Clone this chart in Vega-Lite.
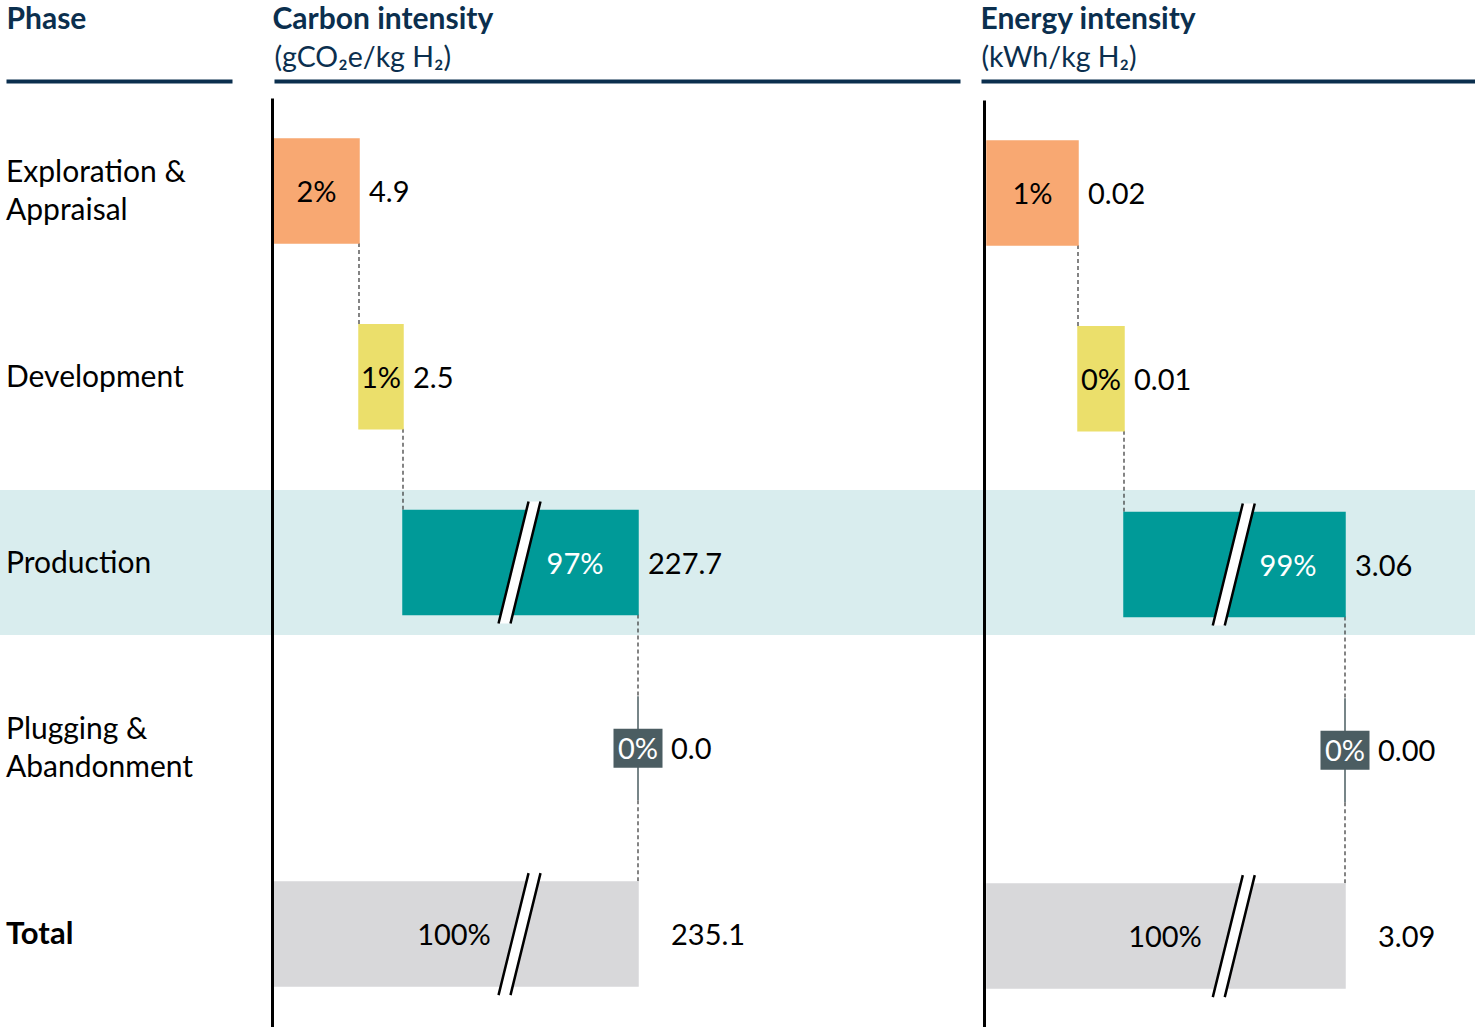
{
  "$schema": "https://vega.github.io/schema/vega-lite/v6.json",
  "width": 1475,
  "height": 1027,
  "autosize": {"type": "fit", "contains": "padding"},
  "padding": 0,
  "background": "white",
  "config": {
    "view": {"stroke": null},
    "font": "Lato",
    "text": {"font": "Lato", "fontSize": 29},
    "axis": {"labelFont": "Lato", "titleFont": "Lato"}
  },
  "datasets": {
    "phases": [
      {"phase": "Exploration & Appraisal", "label": "Exploration &\nAppraisal"},
      {"phase": "Development", "label": "Development"},
      {"phase": "Production", "label": "Production"},
      {"phase": "Plugging & Abandonment", "label": "Plugging &\nAbandonment"},
      {"phase": "Total", "label": "Total"}
    ],
    "carbon": [
      {"phase": "Exploration & Appraisal", "start": 0, "end": 4.9, "value": "4.9", "pct": "2%"},
      {"phase": "Development", "start": 4.9, "end": 7.4, "value": "2.5", "pct": "1%"},
      {"phase": "Production", "start": 7.4, "end": 235.1, "value": "227.7", "pct": "97%"},
      {"phase": "Plugging & Abandonment", "start": 235.1, "end": 235.1, "value": "0.0", "pct": "0%"},
      {"phase": "Total", "start": 0, "end": 235.1, "value": "235.1", "pct": "100%"}
    ],
    "carbonLinks": [
      {"from": "Exploration & Appraisal", "to": "Development", "at": 4.9},
      {"from": "Development", "to": "Production", "at": 7.4},
      {"from": "Production", "to": "Plugging & Abandonment", "at": 235.1},
      {"from": "Plugging & Abandonment", "to": "Total", "at": 235.1}
    ],
    "carbonBreaks": [
      {"phase": "Production", "at": 120.3},
      {"phase": "Total", "at": 120.3}
    ],
    "energy": [
      {"phase": "Exploration & Appraisal", "start": 0, "end": 0.02, "value": "0.02", "pct": "1%"},
      {"phase": "Development", "start": 0.02, "end": 0.03, "value": "0.01", "pct": "0%"},
      {"phase": "Production", "start": 0.03, "end": 3.09, "value": "3.06", "pct": "99%"},
      {"phase": "Plugging & Abandonment", "start": 3.09, "end": 3.09, "value": "0.00", "pct": "0%"},
      {"phase": "Total", "start": 0, "end": 3.09, "value": "3.09", "pct": "100%"}
    ],
    "energyLinks": [
      {"from": "Exploration & Appraisal", "to": "Development", "at": 0.02},
      {"from": "Development", "to": "Production", "at": 0.03},
      {"from": "Production", "to": "Plugging & Abandonment", "at": 3.09},
      {"from": "Plugging & Abandonment", "to": "Total", "at": 3.09}
    ],
    "energyBreaks": [
      {"phase": "Production", "at": 1.55},
      {"phase": "Total", "at": 1.55}
    ]
  },
  "layer": [
    {
      "data": {"name": "phases"},
      "layer": [
        {
          "transform": [{"filter": "datum.phase === 'Production'"}],
          "mark": {"type": "rect", "color": "#D9EDEE"},
          "encoding": {
            "y": {"field": "phase", "type": "nominal", "scale": {"domain": ["Exploration & Appraisal", "Development", "Production", "Plugging & Abandonment", "Total"], "range": [98, 1027], "paddingInner": 0.22, "paddingOuter": 0.11}, "axis": null}
          }
        },
        {
          "layer": [
            {
              "transform": [{"filter": "datum.phase === 'Development' || datum.phase === 'Production'"}],
              "mark": {"type": "text", "align": "left", "baseline": "middle", "dy": 1, "fontSize": 30, "color": "black"},
              "encoding": {
                "x": {"datum": 0, "type": "quantitative", "scale": {"domain": [0, 1], "range": [6, 232], "nice": false, "zero": false},
                  "axis": {"orient": "top", "offset": -81, "domainColor": "#0B2F4E", "domainWidth": 4, "ticks": false, "labels": false, "grid": false, "title": "Phase", "titleFontSize": 30, "titleFontWeight": "bold", "titleColor": "#0B2F4E", "titleAlign": "left", "titleBaseline": "alphabetic", "titleX": 6, "titleY": -53, "zindex": 1}},
                "y": {"field": "phase", "type": "nominal", "scale": {"domain": ["Exploration & Appraisal", "Development", "Production", "Plugging & Abandonment", "Total"], "range": [98, 1027], "paddingInner": 0.44, "paddingOuter": 0.22}, "axis": null},
                "text": {"field": "label"}
              }
            },
            {
              "transform": [{"filter": "datum.phase === 'Exploration & Appraisal' || datum.phase === 'Plugging & Abandonment'"}],
              "mark": {"type": "text", "align": "left", "baseline": "middle", "lineBreak": "\n", "fontSize": 30, "lineHeight": 38, "dy": -18, "color": "black"},
              "encoding": {
                "x": {"datum": 0, "type": "quantitative"},
                "y": {"field": "phase", "type": "nominal"},
                "text": {"field": "label"}
              }
            },
            {
              "transform": [{"filter": "datum.phase === 'Total'"}],
              "mark": {"type": "text", "align": "left", "baseline": "middle", "dy": 1, "fontSize": 31, "fontWeight": "bold", "color": "black"},
              "encoding": {
                "x": {"datum": 0, "type": "quantitative"},
                "y": {"field": "phase", "type": "nominal"},
                "text": {"field": "label"}
              }
            }
          ]
        }
      ],
      "resolve": {"scale": {"y": "independent"}}
    },
    {
      "data": {"name": "carbon"},
      "layer": [
        {
          "data": {"name": "carbonLinks"},
          "mark": {"type": "rule", "strokeDash": [4, 3], "color": "#333333", "strokeWidth": 1.2},
          "encoding": {
            "x": {"field": "at", "type": "quantitative",
              "scale": {"type": "linear", "domain": [0, 4.9, 7.4, 235.1, 547], "range": [274, 359, 403, 638, 960], "nice": false, "zero": false},
              "axis": {"orient": "top", "offset": -81, "domainColor": "#0B2F4E", "domainWidth": 4, "ticks": false, "tickSize": 0, "grid": false, "values": [0], "labelExpr": "'(gCO₂e/kg H₂)'", "labelAlign": "left", "labelBaseline": "alphabetic", "labelPadding": 15, "labelFontSize": 28.5, "labelColor": "#0B2F4E", "labelBound": false, "labelFlush": false, "labelOverlap": false, "title": "Carbon intensity", "titleFontSize": 30, "titleFontWeight": "bold", "titleColor": "#0B2F4E", "titleAlign": "left", "titleBaseline": "alphabetic", "titleX": 272, "titleY": -53, "zindex": 1}},
            "y": {"field": "from", "type": "nominal", "bandPosition": 1,
              "scale": {"domain": ["Exploration & Appraisal", "Development", "Production", "Plugging & Abandonment", "Total"], "range": [98, 1027], "paddingInner": 0.44, "paddingOuter": 0.22},
              "axis": {"orient": "left", "offset": -272, "domainColor": "black", "domainWidth": 3, "ticks": false, "labels": false, "grid": false, "title": null, "zindex": 1}},
            "y2": {"field": "to", "bandPosition": 0}
          }
        },
        {
          "mark": {"type": "bar", "strokeWidth": 1.5},
          "encoding": {
            "x": {"field": "start", "type": "quantitative"},
            "x2": {"field": "end"},
            "y": {"field": "phase", "type": "nominal"},
            "fill": {"field": "phase", "type": "nominal", "scale": {"domain": ["Exploration & Appraisal", "Development", "Production", "Plugging & Abandonment", "Total"], "range": ["#F8A872", "#EBDF6B", "#009A98", "#4B5D62", "#D8D8DA"]}, "legend": null},
            "stroke": {"field": "phase", "type": "nominal", "scale": {"domain": ["Exploration & Appraisal", "Development", "Production", "Plugging & Abandonment", "Total"], "range": ["#F8A872", "#EBDF6B", "#009A98", "#4B5D62", "#D8D8DA"]}, "legend": null}
          }
        },
        {
          "data": {"name": "carbonBreaks"},
          "mark": {"type": "point", "shape": "M -0.344 1 L 0.148 -1 L 0.344 -1 L -0.148 1 Z", "size": 14884, "filled": true, "color": "white", "opacity": 1, "strokeWidth": 0},
          "encoding": {"x": {"field": "at", "type": "quantitative"}, "y": {"field": "phase", "type": "nominal"}}
        },
        {
          "data": {"name": "carbonBreaks"},
          "mark": {"type": "point", "shape": "M -0.344 1 L 0.148 -1 M -0.148 1 L 0.344 -1", "size": 14884, "filled": false, "stroke": "black", "opacity": 1, "strokeWidth": 2.5},
          "encoding": {"x": {"field": "at", "type": "quantitative"}, "y": {"field": "phase", "type": "nominal"}}
        },
        {
          "transform": [{"filter": "datum.phase === 'Plugging & Abandonment'"}],
          "mark": {"type": "point", "shape": "M -1 -0.796 L 1 -0.796 L 1 0.796 L -1 0.796 Z", "size": 2401, "filled": true, "color": "#4B5D62", "opacity": 1, "strokeWidth": 0},
          "encoding": {"x": {"field": "end", "type": "quantitative"}, "y": {"field": "phase", "type": "nominal"}}
        },
        {
          "transform": [{"filter": "datum.phase !== 'Plugging & Abandonment' && datum.phase !== 'Total'"}],
          "mark": {"type": "text", "align": "left", "baseline": "middle", "dx": 10, "dy": 2, "fontSize": 29, "color": "black"},
          "encoding": {"x": {"field": "end", "type": "quantitative"}, "y": {"field": "phase", "type": "nominal"}, "text": {"field": "value"}}
        },
        {
          "transform": [{"filter": "datum.phase === 'Plugging & Abandonment' || datum.phase === 'Total'"}],
          "mark": {"type": "text", "align": "left", "baseline": "middle", "dx": 33, "dy": 2, "fontSize": 29, "color": "black"},
          "encoding": {"x": {"field": "end", "type": "quantitative"}, "y": {"field": "phase", "type": "nominal"}, "text": {"field": "value"}}
        },
        {
          "transform": [{"filter": "datum.phase === 'Exploration & Appraisal' || datum.phase === 'Development'"}, {"calculate": "(datum.start + datum.end) / 2", "as": "mid"}],
          "mark": {"type": "text", "align": "center", "baseline": "middle", "dy": 2, "fontSize": 29, "color": "black"},
          "encoding": {"x": {"field": "mid", "type": "quantitative"}, "y": {"field": "phase", "type": "nominal"}, "text": {"field": "pct"}}
        },
        {
          "transform": [{"filter": "datum.phase === 'Production'"}],
          "mark": {"type": "text", "align": "center", "baseline": "middle", "dx": -63, "dy": 2, "fontSize": 29, "color": "white"},
          "encoding": {"x": {"field": "end", "type": "quantitative"}, "y": {"field": "phase", "type": "nominal"}, "text": {"field": "pct"}}
        },
        {
          "transform": [{"filter": "datum.phase === 'Plugging & Abandonment'"}],
          "mark": {"type": "text", "align": "center", "baseline": "middle", "dy": 2, "fontSize": 29, "color": "white"},
          "encoding": {"x": {"field": "end", "type": "quantitative"}, "y": {"field": "phase", "type": "nominal"}, "text": {"field": "pct"}}
        },
        {
          "transform": [{"filter": "datum.phase === 'Total'"}],
          "mark": {"type": "text", "align": "center", "baseline": "middle", "dx": 180, "dy": 2, "fontSize": 29, "color": "black"},
          "encoding": {"x": {"field": "start", "type": "quantitative"}, "y": {"field": "phase", "type": "nominal"}, "text": {"field": "pct"}}
        }
      ]
    },
    {
      "data": {"name": "energy"},
      "layer": [
        {
          "data": {"name": "energyLinks"},
          "mark": {"type": "rule", "strokeDash": [4, 3], "color": "#333333", "strokeWidth": 1.2},
          "encoding": {
            "x": {"field": "at", "type": "quantitative",
              "scale": {"type": "linear", "domain": [-0.00132, 0, 0.02, 0.03, 3.09, 4.89], "range": [981, 987, 1078, 1124, 1345, 1475], "nice": false, "zero": false},
              "axis": {"orient": "top", "offset": -81, "domainColor": "#0B2F4E", "domainWidth": 4, "ticks": false, "tickSize": 0, "grid": false, "values": [0], "labelExpr": "'(kWh/kg H₂)'", "labelAlign": "left", "labelBaseline": "alphabetic", "labelPadding": 15, "labelOffset": -6, "labelFontSize": 28.5, "labelColor": "#0B2F4E", "labelBound": false, "labelFlush": false, "labelOverlap": false, "title": "Energy intensity", "titleFontSize": 30, "titleFontWeight": "bold", "titleColor": "#0B2F4E", "titleAlign": "left", "titleBaseline": "alphabetic", "titleX": 980, "titleY": -53, "zindex": 1}},
            "y": {"field": "from", "type": "nominal", "bandPosition": 1,
              "scale": {"domain": ["Exploration & Appraisal", "Development", "Production", "Plugging & Abandonment", "Total"], "range": [100, 1029], "paddingInner": 0.44, "paddingOuter": 0.22},
              "axis": {"orient": "left", "offset": -984, "domainColor": "black", "domainWidth": 3, "ticks": false, "labels": false, "grid": false, "title": null, "zindex": 1}},
            "y2": {"field": "to", "bandPosition": 0}
          }
        },
        {
          "mark": {"type": "bar", "strokeWidth": 1.5},
          "encoding": {
            "x": {"field": "start", "type": "quantitative"},
            "x2": {"field": "end"},
            "y": {"field": "phase", "type": "nominal"},
            "fill": {"field": "phase", "type": "nominal", "scale": {"domain": ["Exploration & Appraisal", "Development", "Production", "Plugging & Abandonment", "Total"], "range": ["#F8A872", "#EBDF6B", "#009A98", "#4B5D62", "#D8D8DA"]}, "legend": null},
            "stroke": {"field": "phase", "type": "nominal", "scale": {"domain": ["Exploration & Appraisal", "Development", "Production", "Plugging & Abandonment", "Total"], "range": ["#F8A872", "#EBDF6B", "#009A98", "#4B5D62", "#D8D8DA"]}, "legend": null}
          }
        },
        {
          "data": {"name": "energyBreaks"},
          "mark": {"type": "point", "shape": "M -0.344 1 L 0.148 -1 L 0.344 -1 L -0.148 1 Z", "size": 14884, "filled": true, "color": "white", "opacity": 1, "strokeWidth": 0},
          "encoding": {"x": {"field": "at", "type": "quantitative"}, "y": {"field": "phase", "type": "nominal"}}
        },
        {
          "data": {"name": "energyBreaks"},
          "mark": {"type": "point", "shape": "M -0.344 1 L 0.148 -1 M -0.148 1 L 0.344 -1", "size": 14884, "filled": false, "stroke": "black", "opacity": 1, "strokeWidth": 2.5},
          "encoding": {"x": {"field": "at", "type": "quantitative"}, "y": {"field": "phase", "type": "nominal"}}
        },
        {
          "transform": [{"filter": "datum.phase === 'Plugging & Abandonment'"}],
          "mark": {"type": "point", "shape": "M -1 -0.796 L 1 -0.796 L 1 0.796 L -1 0.796 Z", "size": 2401, "filled": true, "color": "#4B5D62", "opacity": 1, "strokeWidth": 0},
          "encoding": {"x": {"field": "end", "type": "quantitative"}, "y": {"field": "phase", "type": "nominal"}}
        },
        {
          "transform": [{"filter": "datum.phase !== 'Plugging & Abandonment' && datum.phase !== 'Total'"}],
          "mark": {"type": "text", "align": "left", "baseline": "middle", "dx": 10, "dy": 2, "fontSize": 29, "color": "black"},
          "encoding": {"x": {"field": "end", "type": "quantitative"}, "y": {"field": "phase", "type": "nominal"}, "text": {"field": "value"}}
        },
        {
          "transform": [{"filter": "datum.phase === 'Plugging & Abandonment' || datum.phase === 'Total'"}],
          "mark": {"type": "text", "align": "left", "baseline": "middle", "dx": 33, "dy": 2, "fontSize": 29, "color": "black"},
          "encoding": {"x": {"field": "end", "type": "quantitative"}, "y": {"field": "phase", "type": "nominal"}, "text": {"field": "value"}}
        },
        {
          "transform": [{"filter": "datum.phase === 'Exploration & Appraisal' || datum.phase === 'Development'"}, {"calculate": "(datum.start + datum.end) / 2", "as": "mid"}],
          "mark": {"type": "text", "align": "center", "baseline": "middle", "dy": 2, "fontSize": 29, "color": "black"},
          "encoding": {"x": {"field": "mid", "type": "quantitative"}, "y": {"field": "phase", "type": "nominal"}, "text": {"field": "pct"}}
        },
        {
          "transform": [{"filter": "datum.phase === 'Production'"}],
          "mark": {"type": "text", "align": "center", "baseline": "middle", "dx": -57, "dy": 2, "fontSize": 29, "color": "white"},
          "encoding": {"x": {"field": "end", "type": "quantitative"}, "y": {"field": "phase", "type": "nominal"}, "text": {"field": "pct"}}
        },
        {
          "transform": [{"filter": "datum.phase === 'Plugging & Abandonment'"}],
          "mark": {"type": "text", "align": "center", "baseline": "middle", "dy": 2, "fontSize": 29, "color": "white"},
          "encoding": {"x": {"field": "end", "type": "quantitative"}, "y": {"field": "phase", "type": "nominal"}, "text": {"field": "pct"}}
        },
        {
          "transform": [{"filter": "datum.phase === 'Total'"}],
          "mark": {"type": "text", "align": "center", "baseline": "middle", "dx": 178, "dy": 2, "fontSize": 29, "color": "black"},
          "encoding": {"x": {"field": "start", "type": "quantitative"}, "y": {"field": "phase", "type": "nominal"}, "text": {"field": "pct"}}
        }
      ]
    }
  ],
  "resolve": {"scale": {"x": "independent", "y": "independent"}}
}
